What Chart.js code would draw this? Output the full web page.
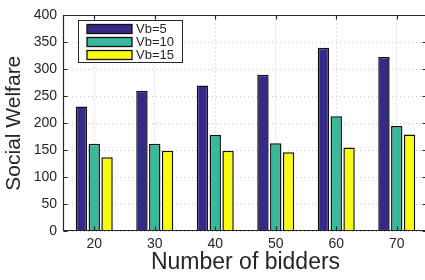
<!DOCTYPE html>
<html>
<head>
<meta charset="utf-8">
<script src="https://cdn.jsdelivr.net/npm/chart.js@4.4.1/dist/chart.umd.min.js"></script>
<style>
  html, body { margin: 0; padding: 0; background: #fff; overflow: hidden; }
  #wrap { width: 432px; height: 280px; }
</style>
</head>
<body>
<div id="wrap"><canvas id="chart" width="432" height="280"></canvas></div>
<script>
// data
const bidders = ['20', '30', '40', '50', '60', '70'];
const vb5 = [231, 260, 270, 290, 340, 323];
const vb10 = [162, 162, 178, 163, 213, 195];
const vb15 = [137, 149, 149, 146, 155, 179];
const seriesNames = ['Vb=5', 'Vb=10', 'Vb=15'];
const seriesColors = ['#352a87', '#38b99c', '#f9fb0e'];
const yMin = 0, yMax = 400, yStep = 50;

const axisColor = '#262626';
const font = 'Liberation Sans, Arial, Helvetica, sans-serif';

// MATLAB style box with inward ticks
const framePlugin = {
    id: 'frame',
    afterDatasetsDraw(chart) {
        const { ctx, chartArea: a, scales: { x, y } } = chart;
        const L = Math.round(a.left) - 0.5, R = Math.round(a.right) - 0.5;
        const T = Math.round(a.top) + 0.5, B = Math.round(a.bottom) - 0.5;
        ctx.save();
        ctx.strokeStyle = axisColor;
        ctx.lineWidth = 1.2;
        ctx.beginPath();
        ctx.rect(L, T, R - L, B - T);
        y.ticks.forEach(t => {
            const py = Math.round(y.getPixelForValue(t.value)) + 0.5;
            ctx.moveTo(L, py); ctx.lineTo(L + 4, py);
            ctx.moveTo(R, py); ctx.lineTo(R - 4, py);
        });
        x.ticks.forEach((t, i) => {
            const px = Math.round(x.getPixelForTick(i)) + 0.5;
            ctx.moveTo(px, B); ctx.lineTo(px, B - 4);
            ctx.moveTo(px, T); ctx.lineTo(px, T + 4);
        });
        ctx.stroke();
        ctx.restore();
    }
};

// legend box in the upper left of the axes
const legendBoxPlugin = {
    id: 'legendBox',
    afterDraw(chart) {
        const { ctx } = chart;
        const bx = 78.5, by = 20.5, bw = 104, bh = 42;
        ctx.save();
        ctx.fillStyle = '#fff';
        ctx.fillRect(bx, by, bw, bh);
        ctx.strokeStyle = axisColor;
        ctx.lineWidth = 1;
        ctx.strokeRect(bx, by, bw, bh);
        ctx.font = '13px ' + font;
        ctx.textBaseline = 'middle';
        ctx.textAlign = 'left';
        chart.data.datasets.forEach((ds, i) => {
            const ry = 24.5 + i * 13;
            ctx.fillStyle = ds.backgroundColor;
            ctx.fillRect(87, ry, 45, 9);
            ctx.lineWidth = 1.3;
            ctx.strokeStyle = '#111';
            ctx.strokeRect(87, ry, 45, 9);
            ctx.fillStyle = axisColor;
            ctx.fillText(ds.label, 136, ry + 5);
        });
        ctx.restore();
    }
};

const ctx = document.getElementById('chart').getContext('2d');
new Chart(ctx, {
    type: 'bar',
    data: {
        labels: bidders,
        datasets: [vb5, vb10, vb15].map((vals, i) => ({
            label: seriesNames[i],
            data: vals,
            backgroundColor: seriesColors[i],
            borderColor: '#111',
            borderWidth: 1.5,
            categoryPercentage: 0.635,
            barPercentage: 0.89
        }))
    },
    options: {
        responsive: false,
        animation: false,
        layout: { padding: { top: 11, right: 5, left: 0, bottom: 0 } },
        plugins: {
            legend: { display: false },
            tooltip: { enabled: false }
        },
        scales: {
            x: {
                grid: {
                    offset: false,
                    color: '#c4c4c4',
                    lineWidth: 1,
                    drawTicks: false
                },
                border: { display: false, dash: [1, 3] },
                ticks: {
                    color: axisColor,
                    font: { family: font, size: 14 },
                    padding: 5
                },
                title: {
                    display: true,
                    text: 'Number of bidders',
                    color: axisColor,
                    font: { family: font, size: 23 },
                    padding: { top: 0, bottom: 4 }
                },
                afterFit(scale) { scale.height = 49; }
            },
            y: {
                min: yMin,
                max: yMax,
                ticks: {
                    stepSize: yStep,
                    color: axisColor,
                    font: { family: font, size: 14 },
                    padding: 7
                },
                grid: {
                    color: '#c4c4c4',
                    lineWidth: 1,
                    drawTicks: false
                },
                border: { display: false, dash: [1, 3] },
                title: {
                    display: true,
                    text: 'Social Welfare',
                    color: axisColor,
                    font: { family: font, size: 21 },
                    padding: { top: 2, bottom: 0 }
                },
                afterFit(scale) { scale.width = 64; }
            }
        }
    },
    plugins: [framePlugin, legendBoxPlugin]
});
</script>
</body>
</html>
